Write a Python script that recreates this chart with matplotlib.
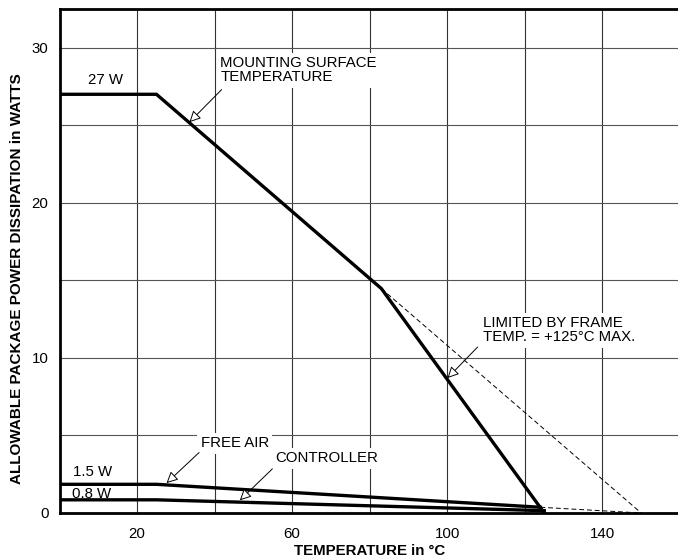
import matplotlib
matplotlib.use("Agg")
import matplotlib.pyplot as plt

plt.rcParams['font.family'] = ['Liberation Sans', 'DejaVu Sans']

# Data
mount_T = [0, 25, 83, 125]
mount_P = [27, 27, 14.47, 0]
mount_ext_T = [83, 150]
mount_ext_P = [14.47, 0]

free_T = [0, 25, 124]
free_P = [1.85, 1.85, 0.37]
free_ext_T = [124, 150]
free_ext_P = [0.37, 0]

ctrl_T = [0, 25, 125]
ctrl_P = [0.85, 0.85, 0.15]

x_ticks = [20, 60, 100, 140]
y_ticks = [0, 10, 20, 30]
x_grid = [20, 40, 60, 80, 100, 120, 140]
y_grid = [5, 10, 15, 20, 25, 30]

FS = 10.8

fig = plt.figure(figsize=(6.78, 5.58), dpi=100)
ax = fig.add_axes([59.5/678, 45/558, (680-59.5)/678, 504/558])
ax.set_xlim(0, 160)
ax.set_ylim(0, 32.5)

for x in x_grid:
    ax.axvline(x, color='#333333', lw=0.8, zorder=1)
for y in y_grid:
    ax.axhline(y, color='#555555', lw=0.8, zorder=1)

ax.plot(mount_T, mount_P, color='black', lw=2.4, zorder=4, solid_joinstyle='miter')
ax.plot(mount_ext_T, mount_ext_P, color='black', lw=0.7, ls=(0, (5, 3)), zorder=3)
ax.plot(free_T, free_P, color='black', lw=2.4, zorder=4)
ax.plot(free_ext_T, free_ext_P, color='black', lw=0.7, ls=(0, (5, 3)), zorder=3)
ax.plot(ctrl_T, ctrl_P, color='black', lw=2.4, zorder=4)

ax.set_xticks(x_ticks)
ax.set_yticks(y_ticks)
ax.tick_params(length=0, labelsize=FS, pad=10)
ax.tick_params(axis='y', pad=8)

for s in ['top', 'left', 'bottom']:
    ax.spines[s].set_linewidth(2.0)
ax.spines['right'].set_visible(False)

ax.set_xlabel('TEMPERATURE in °C', fontsize=FS, fontweight='bold', labelpad=2)
ax.set_ylabel('ALLOWABLE PACKAGE POWER DISSIPATION in WATTS', fontsize=11,
              fontweight='bold')
ax.yaxis.set_label_coords(-0.057, 0.465)

bbox = dict(facecolor='white', edgecolor='none', pad=2.5)
arrow = dict(arrowstyle='-|>', fc='white', ec='black', lw=0.7, mutation_scale=17,
             shrinkA=0, shrinkB=0)

ax.text(41.5, 28.55, 'MOUNTING SURFACE\nTEMPERATURE', fontsize=FS, ha='left',
        va='center', linespacing=1.0, bbox=bbox, zorder=5)
ax.annotate('', xy=(33.5, 25.2), xytext=(41.8, 27.3), arrowprops=arrow, zorder=5)

ax.text(109.1, 11.77, 'LIMITED BY FRAME\nTEMP. = +125°C MAX.', fontsize=FS,
        ha='left', va='center', linespacing=1.0, bbox=bbox, zorder=5)
ax.annotate('', xy=(100.05, 8.7), xytext=(107.8, 10.7), arrowprops=arrow, zorder=5)

ax.text(45.2, 4.49, 'FREE AIR', fontsize=FS, ha='center', va='center', bbox=bbox, zorder=5)
ax.annotate('', xy=(27.6, 1.93), xytext=(36.0, 3.9), arrowprops=arrow, zorder=5)

ax.text(68.9, 3.53, 'CONTROLLER', fontsize=FS, ha='center', va='center', bbox=bbox, zorder=5)
ax.annotate('', xy=(46.5, 0.82), xytext=(54.9, 2.85), arrowprops=arrow, zorder=5)

ax.text(11.9, 27.95, '27 W', fontsize=FS, ha='center', va='center', zorder=5)
ax.text(8.6, 2.65, '1.5 W', fontsize=FS, ha='center', va='center', zorder=5)
ax.text(8.3, 1.25, '0.8 W', fontsize=FS, ha='center', va='center', zorder=5)

fig.savefig('out.png', dpi=100)
